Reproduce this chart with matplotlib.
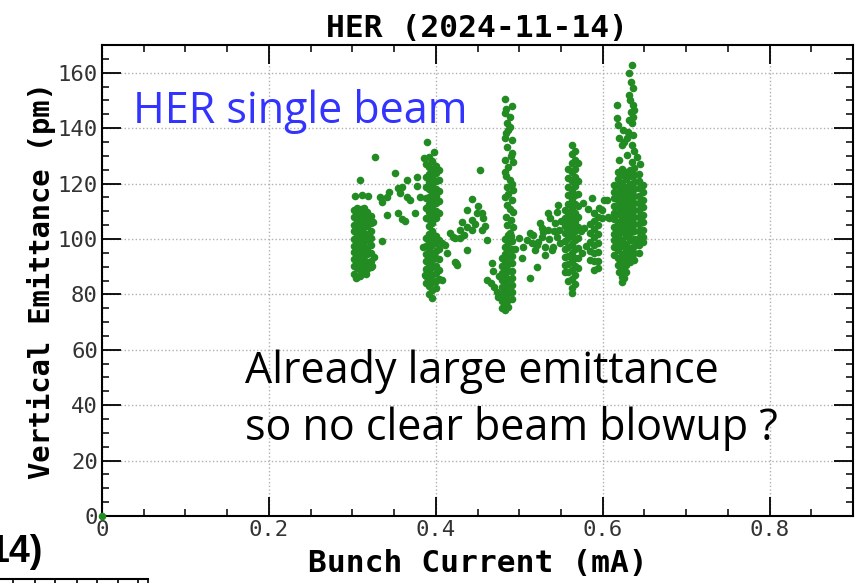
import matplotlib
matplotlib.use("Agg")
import matplotlib.pyplot as plt
from matplotlib.lines import Line2D
from matplotlib.ticker import MultipleLocator

# ---------------------------------------------------------------
# data (bunch current in mA, emittance in pm)
# dense clusters are stored column by column: x of column, y values in it
# ---------------------------------------------------------------
c1_x = [0.302, 0.306, 0.310, 0.314, 0.318, 0.322]
c1_y = [
    [110.5, 107.8, 105.2, 102.9, 100.1, 97.6, 95.3, 92.8, 90.4, 87.2],
    [111.2, 108.9, 106.3, 104.0, 101.5, 99.2, 96.7, 94.1, 91.8, 89.5, 86.4],
    [110.8, 108.1, 105.6, 103.3, 100.7, 98.5, 96.0, 93.4, 91.0, 88.6],
    [111.0, 109.4, 106.9, 104.6, 102.2, 99.8, 97.3, 94.8, 92.5, 90.1, 87.6],
    [109.7, 107.2, 104.5, 101.8, 99.5, 96.9, 94.4, 91.6, 89.3],
    [108.3, 105.8, 103.0, 100.3, 97.9, 95.0, 92.2, 90.0],
]

c2_x = [0.388, 0.392, 0.396, 0.400, 0.404]
c2_y = [
    [127.0, 122.5, 118.6, 114.9, 111.2, 107.5, 100.2, 97.4, 94.6, 91.9, 89.1, 86.5, 84.0],
    [129.5, 126.1, 123.4, 120.7, 117.9, 115.2, 112.6, 109.8, 107.1, 104.5, 101.8, 99.0,
     96.3, 93.7, 90.8, 88.2, 85.5, 82.9, 80.3],
    [128.2, 125.3, 122.0, 119.4, 116.5, 113.8, 111.0, 108.3, 105.6, 103.0, 100.5, 97.8,
     95.1, 92.4, 89.7, 87.0, 84.3, 81.6, 78.8],
    [126.4, 123.7, 120.9, 118.1, 115.5, 112.8, 110.1, 107.4, 101.2, 98.5, 95.8, 93.0,
     90.3, 87.6, 84.9, 82.2],
    [124.8, 121.3, 117.2, 113.6, 109.5, 99.6, 96.2, 92.7, 88.9, 85.4],
]

c3_x = [0.479, 0.483, 0.487, 0.491]
c3_y = [
    [93.0, 90.4, 87.8, 85.1, 82.6, 80.0, 77.5, 75.2],
    [99.8, 97.2, 94.6, 92.1, 89.5, 86.9, 84.3, 81.8, 79.2, 76.7, 74.3],
    [101.3, 98.7, 96.0, 93.5, 90.9, 88.3, 85.7, 83.1, 80.6, 78.0, 75.5],
    [99.2, 96.5, 93.8, 91.2, 88.6, 86.0, 83.4, 80.8, 78.3],
]

c4_x = [0.555, 0.559, 0.563, 0.567, 0.571]
c4_y = [
    [110.5, 107.6, 104.8, 102.0, 99.1, 96.3, 93.5, 90.7, 88.0],
    [125.4, 122.1, 118.9, 115.7, 112.6, 109.5, 106.4, 103.3, 100.2, 97.1, 94.0, 91.0, 87.9, 84.8],
    [133.8, 130.5, 127.3, 124.0, 120.8, 117.6, 114.3, 111.1, 107.9, 104.7, 101.5, 98.3,
     95.1, 91.9, 88.7, 85.5, 82.3, 80.5],
    [131.9, 128.6, 125.4, 122.2, 119.0, 115.8, 112.5, 109.3, 106.1, 102.9, 99.7, 96.5,
     93.3, 90.1, 86.9, 83.7],
    [127.5, 121.0, 116.3, 111.8, 108.0, 104.2, 100.5, 96.8, 93.0, 89.4],
]

c5_x = [0.585, 0.590, 0.595]
c5_y = [
    [105.3, 102.1, 98.8, 95.6, 92.4],
    [109.4, 106.5, 103.6, 100.7, 97.8, 94.9, 92.0, 88.8],
    [108.0, 104.9, 101.7, 98.5, 95.3, 92.1, 89.6],
]

c6_x = [0.613, 0.618, 0.623, 0.628, 0.633, 0.638, 0.643, 0.648]
c6_y = [
    [119.4, 116.8, 114.6, 111.9, 109.3, 107.1, 104.4, 101.8, 99.6, 97.2, 94.3],
    [124.3, 121.6, 119.2, 116.5, 114.0, 111.4, 108.9, 106.2, 103.7, 101.1, 98.5, 96.0, 93.3, 90.6],
    [125.4, 122.9, 120.2, 117.8, 115.1, 112.6, 110.1, 107.4, 104.9, 102.4, 99.7, 97.3,
     94.6, 92.0, 89.4, 86.3],
    [124.1, 121.5, 118.9, 116.4, 113.7, 111.2, 108.6, 106.0, 103.5, 100.9, 98.3, 95.8,
     93.2, 90.5, 87.9],
    [125.0, 122.6, 120.0, 117.4, 114.9, 112.3, 109.7, 107.2, 104.6, 102.0, 99.5, 96.9, 94.3, 91.8],
    [125.6, 123.2, 120.6, 118.1, 115.5, 112.9, 110.4, 107.8, 105.3, 102.7, 100.1, 97.6, 95.0, 92.4],
    [123.4, 120.8, 118.3, 115.6, 113.1, 110.5, 107.9, 105.4, 102.8, 100.2, 97.7, 95.1],
    [119.6, 116.9, 114.2, 111.5, 108.8, 106.1, 103.4, 100.7, 98.9],
]

# loose points between / around the clusters
loose_x = [
    0.000,
    0.309, 0.327, 0.303, 0.311, 0.319, 0.333, 0.335, 0.341, 0.341, 0.336, 0.351, 0.344,
    0.355, 0.357, 0.359, 0.366, 0.365, 0.369, 0.355, 0.359, 0.363, 0.377, 0.378, 0.375,
    0.381, 0.386, 0.390,
    0.325, 0.326, 0.324, 0.304, 0.309, 0.316,
    0.398, 0.408, 0.411, 0.413, 0.408, 0.387, 0.385, 0.423, 0.425,
    0.417, 0.421, 0.429, 0.432, 0.437, 0.437, 0.444, 0.443, 0.444, 0.449, 0.455, 0.456,
    0.453, 0.455, 0.461, 0.438, 0.429, 0.423, 0.467, 0.424, 0.451, 0.447, 0.459, 0.434,
    0.4826, 0.491, 0.4826, 0.485, 0.4886, 0.4838, 0.491, 0.485, 0.491, 0.4826, 0.4922,
    0.4826, 0.4886, 0.485, 0.4922, 0.4826, 0.491, 0.485, 0.4922, 0.4838, 0.4898, 0.4922,
    0.4886, 0.484, 0.489, 0.486, 0.483, 0.490, 0.487, 0.484, 0.491, 0.486, 0.489, 0.485,
    0.490,
    0.461, 0.466, 0.470, 0.473, 0.475, 0.468, 0.476,
    0.500, 0.504, 0.513, 0.515, 0.519, 0.522, 0.525, 0.527, 0.531, 0.534, 0.537, 0.539,
    0.543, 0.546, 0.513, 0.521, 0.503, 0.545, 0.521, 0.527, 0.531, 0.534, 0.540, 0.545,
    0.548, 0.509, 0.517, 0.529, 0.536, 0.542, 0.550, 0.549, 0.495,
    0.574, 0.575,
    0.587, 0.605, 0.599, 0.608, 0.576, 0.596, 0.606, 0.602, 0.599, 0.578, 0.580, 0.583,
    0.635, 0.632, 0.634, 0.636, 0.631, 0.636, 0.634, 0.636, 0.635, 0.630, 0.636, 0.624,
    0.617, 0.617, 0.618, 0.620, 0.623, 0.629, 0.635, 0.641, 0.629, 0.635, 0.644, 0.633,
    0.637, 0.632, 0.626, 0.638, 0.620, 0.645, 0.623, 0.620, 0.626,
]
loose_y = [
    0.0,
    121.3, 129.6, 115.5, 115.9, 115.5, 115.2, 113.4, 115.2, 108.7, 99.3, 123.8, 117.0,
    118.4, 116.6, 118.8, 121.3, 115.2, 114.1, 109.4, 107.2, 106.5, 122.4, 119.1, 109.4,
    115.2, 129.2, 135.0,
    106.0, 93.5, 90.2, 86.0, 86.8, 87.5,
    131.5, 98.5, 97.8, 95.0, 85.2, 87.0, 97.0, 91.7, 90.6,
    102.2, 100.7, 103.2, 106.1, 104.3, 110.5, 114.4, 106.9, 103.2, 109.4, 109.4, 107.6,
    124.9, 103.2, 99.6, 96.0, 100.4, 100.4, 91.3, 91.3, 112.0, 105.5, 104.8, 101.5,
    150.5, 148.0, 145.5, 142.0, 140.4, 138.3, 135.7, 133.2, 131.0, 128.5, 127.8,
    124.2, 121.3, 118.8, 117.7, 115.2, 114.1, 112.3, 109.7, 107.9, 106.9, 104.3,
    102.2, 146.8, 143.9, 139.2, 136.5, 130.0, 126.1, 122.8, 119.9, 116.3, 110.8, 105.1,
    100.9,
    85.2, 84.1, 82.6, 80.9, 78.9, 88.4, 86.5,
    100.4, 97.1, 102.2, 98.6, 96.0, 98.9, 105.8, 100.7, 97.1, 103.2, 107.6, 96.0,
    105.8, 112.3, 85.9, 89.9, 93.1, 100.7, 97.8, 104.0, 94.2, 109.4, 97.1, 109.7,
    103.2, 99.5, 101.3, 102.4, 100.0, 102.9, 106.5, 98.6, 96.5,
    103.0, 95.0,
    114.8, 114.1, 110.5, 107.6, 113.0, 111.2, 107.9, 114.1, 107.6, 104.0, 97.5, 110.8,
    162.8, 159.9, 156.7, 154.5, 152.0, 148.4, 145.8, 144.0, 141.9, 138.6, 137.5, 139.4,
    148.4, 143.7, 141.2, 136.5, 133.9, 136.5, 133.9, 129.6, 130.3, 127.8, 98.9, 150.2,
    146.6, 143.0, 134.9, 131.8, 128.4, 127.2, 84.5, 88.0, 86.0,
]

x_ticks = [0, 0.2, 0.4, 0.6, 0.8]
x_tick_labels = ["0", "0.2", "0.4", "0.6", "0.8"]
y_ticks = [0, 20, 40, 60, 80, 100, 120, 140, 160]


def flatten(cols_x, cols_y):
    xs, ys = [], []
    for cx, col in zip(cols_x, cols_y):
        xs += [cx] * len(col)
        ys += col
    return xs, ys


all_x, all_y = list(loose_x), list(loose_y)
for cx, cy in [(c1_x, c1_y), (c2_x, c2_y), (c3_x, c3_y),
               (c4_x, c4_y), (c5_x, c5_y), (c6_x, c6_y)]:
    fx, fy = flatten(cx, cy)
    all_x += fx
    all_y += fy

MONO = "DejaVu Sans Mono"
GREEN = "#228B22"

fig = plt.figure(figsize=(8.64, 5.83), dpi=100)
ax = fig.add_axes([102 / 864, 1 - 516 / 583, (853 - 102) / 864, (516 - 45) / 583])

ax.scatter(all_x, all_y, s=30, color=GREEN, linewidths=0, zorder=3, clip_on=False)

ax.set_xlim(0, 0.9)
ax.set_ylim(0, 170)
ax.set_xticks(x_ticks)
ax.set_xticklabels(x_tick_labels)
ax.set_yticks(y_ticks)
ax.xaxis.set_minor_locator(MultipleLocator(0.05))
ax.yaxis.set_minor_locator(MultipleLocator(5))

ax.tick_params(which="both", direction="in", top=True, right=True, colors="black",
               labelcolor="#333333")
ax.tick_params(which="major", length=14, width=1.3, labelsize=16, pad=3)
ax.tick_params(which="minor", length=5, width=1.1)
for lab in ax.get_xticklabels() + ax.get_yticklabels():
    lab.set_family(MONO)
for sp in ax.spines.values():
    sp.set_linewidth(1.5)

ax.grid(True, which="major", linestyle=":", color="#b0b0b0", linewidth=1.0)
ax.set_axisbelow(True)

ax.set_title("HER (2024-11-14)", family=MONO, weight="bold", fontsize=22.5, pad=6)
ax.set_xlabel("Bunch Current (mA)", family=MONO, weight="bold", fontsize=22.5, labelpad=6)
ax.set_ylabel("Vertical Emittance (pm)", family=MONO, weight="bold", fontsize=20.7, labelpad=1)

# slide annotations
ax.text(0.037, 141.9, "HER single beam", color="#3333ff", fontsize=31,
        family="Open Sans", va="baseline", ha="left")
ax.text(0.171, 48.0, "Already large emittance", color="black", fontsize=31,
        family="Open Sans", va="baseline", ha="left")
ax.text(0.171, 27.4, "so no clear beam blowup ?", color="black", fontsize=31,
        family="Open Sans", va="baseline", ha="left")

# cropped piece of the neighbouring plot at the bottom-left corner
fig.text(43 / 864, 1 - 562 / 583, "14)", ha="right", va="baseline", fontsize=27,
         weight="bold", family="Liberation Sans")
yb = 1 - 579 / 583
fig.add_artist(Line2D([0, 148 / 864], [yb, yb], color="black", lw=1.5))
for px in [13, 35, 55, 77, 97, 118, 138, 148]:
    fig.add_artist(Line2D([px / 864, px / 864], [yb, 0], color="black", lw=1.2))

fig.savefig("out.png", dpi=100)
